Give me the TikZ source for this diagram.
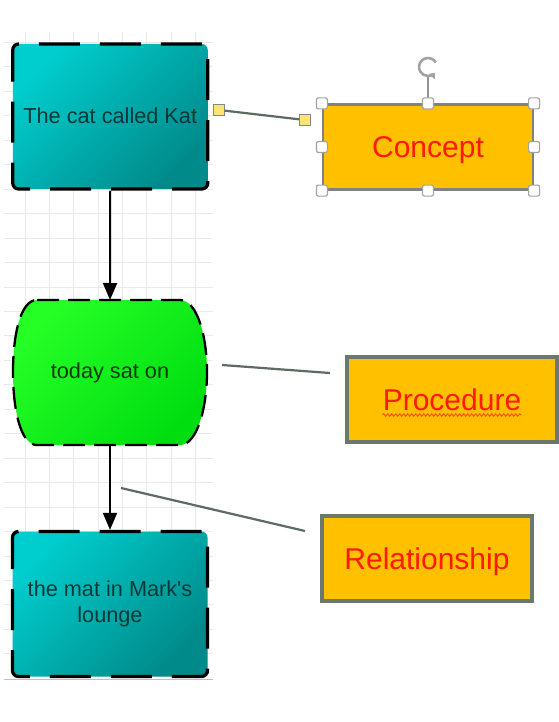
\documentclass[tikz,border=0pt]{standalone}
\usepackage{fontspec}
\setmainfont{Liberation Sans}
\usetikzlibrary{arrows.meta,decorations.pathmorphing}
\definecolor{MapTeal}{HTML}{00CDCD}
\definecolor{MapTealDark}{HTML}{008A8A}
\definecolor{MapTealInk}{HTML}{003838}
\definecolor{MapGreen}{HTML}{26FF26}
\definecolor{MapGreenDark}{HTML}{00DE10}
\definecolor{MapGreenInk}{HTML}{063806}
\definecolor{MapOrange}{HTML}{FFC000}
\definecolor{MapRed}{HTML}{FF1A00}
\definecolor{MapFrame}{HTML}{6B786E}
\definecolor{MapLink}{HTML}{5E6B63}
\definecolor{MapGrid}{HTML}{EAEAEA}
\definecolor{MapHandle}{HTML}{A3A3A3}
\definecolor{MapPin}{HTML}{FFE475}
\tikzset{
  every node/.style={text=black},
  gridline/.style={draw=MapGrid, line width=0.9pt},
  conceptbox/.style={draw=black, line width=3.3pt, dash pattern=on 41pt off 20pt,
    rounded corners=6pt, top color=MapTeal, bottom color=MapTealDark, shading angle=45,
    minimum width=195pt, minimum height=145pt, inner sep=0pt,
    text=MapTealInk, align=center, font=\fontsize{21.7}{26}\selectfont},
  eventbox/.style={draw=black, line width=2.3pt, dash pattern=on 22pt off 9pt,
    top color=MapGreen, bottom color=MapGreenDark, shading angle=45},
  keybox/.style={draw=MapFrame, line width=3.5pt, fill=MapOrange, text=MapRed,
    minimum width=210pt, minimum height=85pt, text depth=0pt,
    font=\fontsize{30}{36}\selectfont},
  flow/.style={-{Triangle[length=17pt,width=14pt]}, draw=black, line width=2pt},
  link/.style={draw=MapLink, line width=2.2pt},
  handle/.style={draw=MapHandle, fill=white, line width=1.2pt, rounded corners=2pt,
    minimum size=11pt, inner sep=0pt},
  pin/.style={draw=MapLink!80, fill=MapPin, line width=1pt, minimum size=10.5pt, inner sep=0pt},
}
\begin{document}
\begin{tikzpicture}[x=1pt,y=-1pt]
  \useasboundingbox[fill=white] (0,0) rectangle (558,722);
  % Background grid behind the chain
  \foreach \i in {1,...,8} \draw[gridline] (1+24.3*\i,32) -- (1+24.3*\i,679);
  \foreach \j in {0,...,25} \draw[gridline] (4,42.5+24.45*\j) -- (213,42.5+24.45*\j);
  \draw[MapHandle!70, line width=1pt] (4,679) -- (213,679);
  % Chain of three shapes
  \node[conceptbox] (cat) at (110.25,116.5) {\raisebox{1.5pt}{The cat called Kat}};
  \path[eventbox] (37,300) -- (180,300) .. controls (197,300) and (207,336) .. (207,372)
    .. controls (207,408) and (197,445) .. (180,445) -- (37,445)
    .. controls (20,445) and (13,408) .. (13,372)
    .. controls (13,336) and (20,300) .. (37,300) -- cycle;
  \node[minimum width=194pt, minimum height=145pt, inner sep=0pt, outer sep=0pt,
    text=MapGreenInk, font=\fontsize{21.7}{26}\selectfont] (sat) at (110,372.5) {today sat on};
  \node[conceptbox] (mat) at (110,604) {the mat in Mark\textquotesingle s\\lounge};
  \draw[flow] (cat.south) -- (sat.north);
  \draw[flow] (sat.south) -- (mat.north);
  % Legend boxes
  \node[keybox, draw=MapHandle!80!black, line width=2.2pt] (concept) at (428,147) {Concept};
  \node[keybox] (proc) at (452,399.5) {Procedure};
  \node[keybox] (rel) at (427,558.5) {Relationship};
  \draw[MapRed!70!MapOrange, line width=0.9pt, decorate,
    decoration={snake, amplitude=1.2pt, segment length=4pt}]
    ([shift={(-69.5,15.5)}]proc.center) -- ([shift={(69.5,15.5)}]proc.center);
  % Selection handles on the concept box
  \coordinate (rot) at (428,67);
  \draw[MapHandle!90!black, line width=1.3pt] (concept.north) -- (428,77);
  \draw[MapHandle, line width=2.6pt, -{Triangle[length=5pt,width=8pt]}]
    ([shift={(-30:9)}]rot) arc (-30:-320:9);
  \foreach \a in {north west,north,north east,east,south east,south,south west,west}
    \node[handle] (h-\a) at (concept.\a) {};
  % Leader lines
  \node[pin] (pinA) at (219,110) {};
  \node[pin] (pinB) at (305,120) {};
  \draw[link] (pinA) -- (pinB);
  \coordinate (procA) at (222,365);
  \coordinate (procB) at (330,373);
  \draw[link] (procA) -- (procB);
  \coordinate (relA) at (121,488);
  \coordinate (relB) at (305,531);
  \draw[link] (relA) -- (relB);
\end{tikzpicture}
\end{document}
